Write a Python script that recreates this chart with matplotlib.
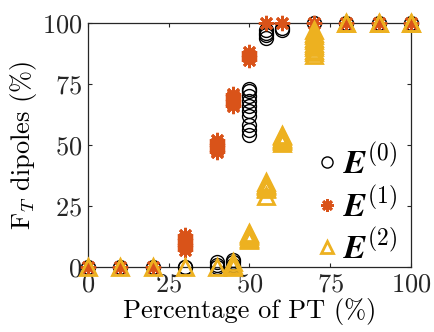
import matplotlib
matplotlib.use("Agg")
import matplotlib.pyplot as plt

plt.rcParams["font.family"] = "cmr10"
plt.rcParams["mathtext.fontset"] = "cm"
plt.rcParams["axes.formatter.use_mathtext"] = True

# percentage of PT and F_T values from repeated runs (one list per percentage)
pct = [0, 10, 20, 30, 40, 45, 50, 55, 60, 70, 80, 90, 100]

e0_runs = [[0], [0], [0], [0, 0], [0, 1, 2], [0, 1, 2, 3],
           [54, 56, 58, 62, 64, 66, 68, 70, 72, 73],
           [94, 95, 96, 97], [97, 98], [100], [100], [100], [100]]
e1_runs = [[0], [0], [0], [7, 8, 9, 10, 11, 12, 13],
           [47, 48, 49, 50, 51, 52], [66, 67, 68, 69, 70, 71],
           [85, 86, 87, 88], [100], [100], [100], [100], [100], [100]]
e2_runs = [[0], [0], [0], [0], [0], [0, 1, 2],
           [11, 11.5, 12, 12.5, 13, 13.5, 14],
           [29, 32, 32.5, 33, 33.5, 34, 35],
           [51, 51.5, 52, 52.5, 53, 53.5, 54],
           [87, 88, 89, 90, 91, 92, 93, 94, 95, 96, 97],
           [100, 100], [100, 100], [100, 100]]

labels = [r"$\boldsymbol{E}^{(0)}$", r"$\boldsymbol{E}^{(1)}$", r"$\boldsymbol{E}^{(2)}$"]


def expand(xs, runs):
    xx, yy = [], []
    for x, r in zip(xs, runs):
        xx += [x] * len(r)
        yy += r
    return xx, yy


fig = plt.figure(figsize=(4.35, 3.32), dpi=100)
ax = fig.add_axes([0.2023, 0.1958, 0.7425, 0.7349])

x0, y0 = expand(pct, e0_runs)
x1, y1 = expand(pct, e1_runs)
x2, y2 = expand(pct, e2_runs)

ax.plot(x0, y0, "o", mfc="none", mec="black", ms=10, mew=1.0,
        ls="none", clip_on=False, label=labels[0], zorder=3)
ax.plot(x1, y1, marker=(8, 2, 0), color="#D95319", ms=11, mew=2.0,
        ls="none", clip_on=False, label=labels[1], zorder=4)
ax.plot(x2, y2, "^", mfc="none", mec="#EDB120", ms=11, mew=2.0,
        ls="none", clip_on=False, label=labels[2], zorder=5)

ax.set_xlim(0, 100)
ax.set_ylim(0, 100)
ax.set_xticks([0, 25, 50, 75, 100])
ax.set_yticks([0, 25, 50, 75, 100])
ax.tick_params(direction="in", length=3, width=0.8, labelsize=19,
               top=True, right=True, colors="#262626", pad=4)
for s in ax.spines.values():
    s.set_linewidth(0.9)
    s.set_color("#262626")

ax.set_xlabel("Percentage of PT (%)", fontsize=19, labelpad=1)
ax.set_ylabel(r"F$_T$ dipoles (%)", fontsize=19, labelpad=2)

ax.legend(loc="lower right", frameon=False, fontsize=24, handletextpad=0.0,
          borderaxespad=0.0, labelspacing=0.2, handlelength=1.0,
          markerscale=0.8, bbox_to_anchor=(1.0, -0.045))

fig.savefig("out.png", dpi=100)
